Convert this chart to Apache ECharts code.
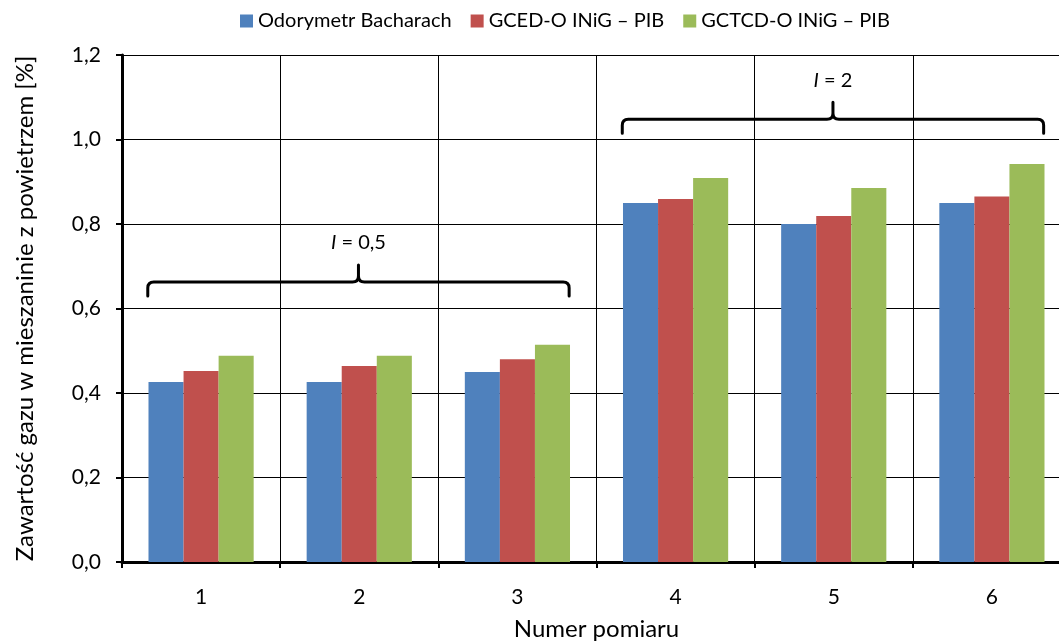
<!DOCTYPE html>
<html>
<head>
<meta charset="utf-8">
<script src="https://cdn.jsdelivr.net/npm/echarts@6/dist/echarts.min.js"></script>
<style>
html,body{margin:0;padding:0;background:#fff;}
#chart{width:1059px;height:642px;}
</style>
</head>
<body>
<div id="chart"></div>
<script>
var categories = ['1', '2', '3', '4', '5', '6'];
var seriesNames = ['Odorymetr Bacharach', 'GCED-O INiG – PIB', 'GCTCD-O INiG – PIB'];
var bacharach = [0.426, 0.426, 0.450, 0.850, 0.800, 0.850];
var gced = [0.452, 0.464, 0.480, 0.859, 0.819, 0.865];
var gctcd = [0.488, 0.488, 0.514, 0.909, 0.885, 0.942];
var yTicks = [0, 0.2, 0.4, 0.6, 0.8, 1.0, 1.2];
// brace annotations: first category index, last category index, brace line value, label value
var braceStart = [0, 3];
var braceEnd = [2, 5];
var braceLevel = [0.663, 1.048];
var braceLabel = ['0,5', '2'];

var FONT = 'Lato, "Open Sans", sans-serif';
var colors = ['#4F81BD', '#C0504D', '#9BBB59'];

var braceData = braceStart.map(function (s, i) {
  return [s, braceEnd[i], braceLevel[i], braceLabel[i]];
});

function renderBrace(params, api) {
  var bw = api.size([1, 0])[0];
  var pStart = api.coord([api.value(0), api.value(2)]);
  var pEnd = api.coord([api.value(1), api.value(2)]);
  var left = pStart[0] - 0.337 * bw;
  var right = pEnd[0] + 0.327 * bw;
  var y = pStart[1];
  var cx = (left + right) / 2;
  var r = 6, down = 14, tip = 17;
  var path = 'M' + left + ' ' + (y + down) +
    ' L' + left + ' ' + (y + r) +
    ' Q' + left + ' ' + y + ' ' + (left + r) + ' ' + y +
    ' L' + (cx - r) + ' ' + y +
    ' Q' + cx + ' ' + y + ' ' + cx + ' ' + (y - r) +
    ' L' + cx + ' ' + (y - tip) +
    ' M' + cx + ' ' + (y - r) +
    ' Q' + cx + ' ' + y + ' ' + (cx + r) + ' ' + y +
    ' L' + (right - r) + ' ' + y +
    ' Q' + right + ' ' + y + ' ' + right + ' ' + (y + r) +
    ' L' + right + ' ' + (y + down);
  return {
    type: 'group',
    children: [
      {
        type: 'path',
        shape: { pathData: path },
        style: { fill: 'none', stroke: '#000', lineWidth: 3, lineCap: 'round', lineJoin: 'round' }
      },
      {
        type: 'text',
        style: {
          x: cx, y: y - 39,
          text: '{i|I} = ' + api.value(3),
          textAlign: 'center', textVerticalAlign: 'middle',
          align: 'center', verticalAlign: 'middle',
          fill: '#000',
          fontFamily: FONT, fontSize: 20,
          rich: {
            i: { fontStyle: 'italic', fontFamily: FONT, fontSize: 20, fill: '#000' }
          }
        }
      }
    ]
  };
}

var chart = echarts.init(document.getElementById('chart'));
var barCommon = { type: 'bar', barGap: '0%', barCategoryGap: '33.5%' };
chart.setOption({
  animation: false,
  color: colors,
  textStyle: { fontFamily: FONT, color: '#000' },
  legend: {
    data: seriesNames,
    top: 6,
    left: 235,
    itemWidth: 13,
    itemHeight: 13,
    itemGap: 19,
    icon: 'rect',
    textStyle: { fontFamily: FONT, fontSize: 20, color: '#000' }
  },
  grid: { left: 122, right: -12, top: 55, bottom: 80, containLabel: false, outerBoundsMode: 'none' },
  xAxis: {
    type: 'category',
    data: categories,
    boundaryGap: true,
    name: 'Numer pomiaru',
    nameLocation: 'middle',
    nameGap: 55,
    nameMoveOverlap: false,
    nameTextStyle: { fontFamily: FONT, fontSize: 24, color: '#000' },
    axisLine: { lineStyle: { color: '#000', width: 3 } },
    axisTick: { show: true, length: 6, lineStyle: { color: '#000', width: 2 } },
    axisLabel: { fontFamily: FONT, fontSize: 21, color: '#000', margin: 25 },
    splitLine: { show: true, lineStyle: { color: '#000', width: 1 } }
  },
  yAxis: {
    type: 'value',
    min: 0,
    max: 1.2,
    interval: 0.2,
    name: 'Zawartość gazu w mieszaninie z powietrzem [%]',
    nameLocation: 'middle',
    nameGap: 85,
    nameMoveOverlap: false,
    nameTextStyle: { fontFamily: FONT, fontSize: 24, color: '#000' },
    axisLine: { show: true, lineStyle: { color: '#000', width: 3 } },
    axisTick: { show: true, length: 6, lineStyle: { color: '#000', width: 2 } },
    axisLabel: {
      fontFamily: FONT, fontSize: 21, color: '#000', margin: 21,
      formatter: function (v) {
        var t = yTicks.filter(function (x) { return Math.abs(x - v) < 1e-9; });
        return t.length ? t[0].toFixed(1).replace('.', ',') : '';
      }
    },
    splitLine: { show: true, lineStyle: { color: '#000', width: 1 } }
  },
  series: [
    Object.assign({ name: seriesNames[0], data: bacharach, itemStyle: { color: colors[0] } }, barCommon),
    Object.assign({ name: seriesNames[1], data: gced, itemStyle: { color: colors[1] } }, barCommon),
    Object.assign({ name: seriesNames[2], data: gctcd, itemStyle: { color: colors[2] } }, barCommon),
    {
      type: 'custom',
      name: 'braces',
      renderItem: renderBrace,
      encode: { x: [0, 1], y: 2 },
      data: braceData,
      z: 10,
      silent: true
    }
  ]
});
</script>
</body>
</html>
